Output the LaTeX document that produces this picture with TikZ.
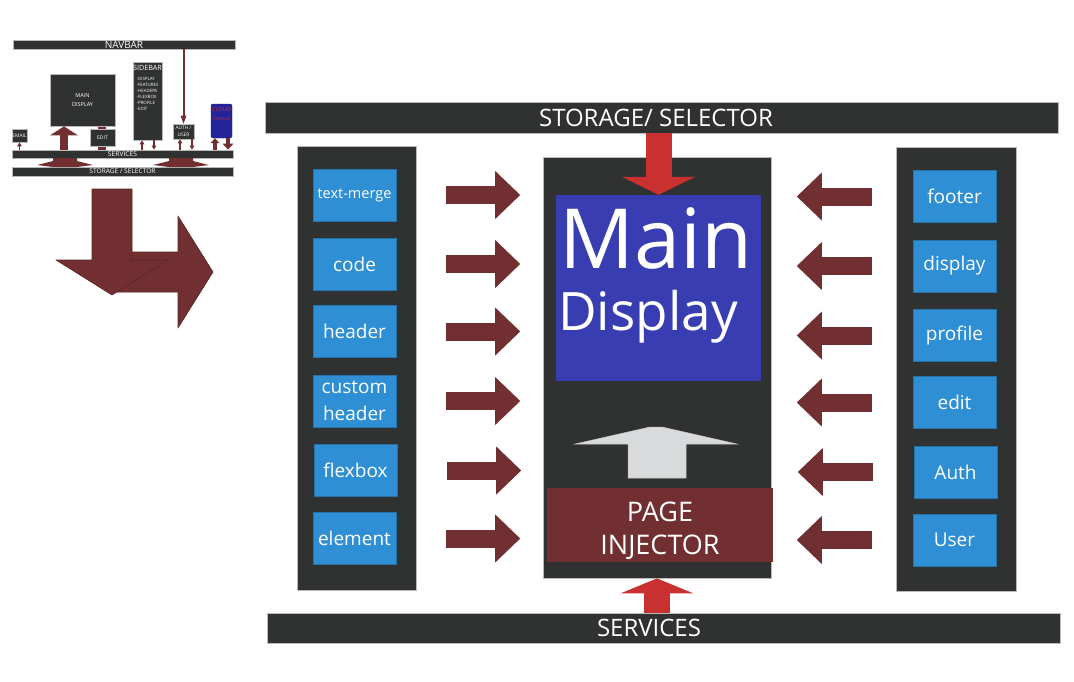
\documentclass[tikz,border=0pt]{standalone}
\usepackage{fontspec}
\setmainfont{Open Sans}
\usetikzlibrary{arrows.meta,calc}
\definecolor{panelgray}{HTML}{303131}
\definecolor{tileblue}{HTML}{2F8FD4}
\definecolor{darkred}{HTML}{722F31}
\definecolor{brightred}{HTML}{C93131}
\definecolor{screenblue}{HTML}{383DB1}
\definecolor{ghost}{HTML}{D9DADB}
\definecolor{cloudedge}{HTML}{24239A}
\definecolor{cloudmid}{HTML}{5656DC}
\def\flatwedge(#1){\fill[darkred] ($(#1)+(-28,7)$) -- ++(16,-4) -- ++(0,-3) -- ++(24,0) -- ++(0,3) -- ++(16,4) -- ++(-16,2) -- ++(-24,0) -- cycle;}
\tikzset{
	darkbox/.style={fill=panelgray, draw=gray!55, line width=0.8pt, text=white, inner sep=0pt, align=center},
	tile/.style={fill=tileblue, draw=tileblue!80!black, line width=0.4pt, text=white, minimum width=83, minimum height=52, inner sep=0pt, align=center, font=\fontsize{19}{27}\selectfont},
	bartext/.style={text=white, inner sep=0pt, font=\fontsize{24}{24}\selectfont},
	pusharr/.style={draw=darkred, line width=18pt, -{Triangle[length=25pt, width=48pt, line width=0pt]}},
	redpush/.style={draw=brightred, line width=26pt, -{Triangle[length=18pt, width=73pt, line width=0pt]}},
	tinyarr/.style={draw=darkred, line width=1.6pt, -{Triangle[length=4pt, width=5pt, line width=0pt]}},
	cloudarr/.style={draw=darkred, line width=3.5pt, -{Triangle[length=5pt, width=9pt, line width=0pt]}},
	bentarr/.style={fill=darkred, draw=darkred!80!black, line width=0.6pt, line join=round}
}

\begin{document}
\begin{tikzpicture}[x=1pt,y=-1pt]
			%%%%% START %%%%%
			\useasboundingbox (0,0) rectangle (1074,681);

			% small sketch
			\node[darkbox, minimum width=222, minimum height=9, font=\fontsize{10}{10}\selectfont] (navbar) at (124,44.5) {NAVBAR};
			\node[darkbox, minimum width=221, minimum height=8, font=\fontsize{6.7}{7}\selectfont] (sserv) at (122.5,154) {SERVICES};
			\node[darkbox, minimum width=221, minimum height=9, font=\fontsize{6.6}{7}\selectfont] (ssel) at (122.5,171.5) {STORAGE / SELECTOR};

			\flatwedge(65,158)
			\flatwedge(181,158)

			\fill[darkred] (98,126) rectangle (106,150);
			\node[darkbox, minimum width=65, minimum height=52, font=\fontsize{5.5}{9}\selectfont] (smain) at (82.5,100) {MAIN\\DISPLAY};
			\node[darkbox, minimum width=25, minimum height=17, font=\fontsize{5}{6}\selectfont] (sedit) at (102.5,137.5) {EDIT};
			\node[darkbox, minimum width=15, minimum height=13, font=\fontsize{4.9}{6}\selectfont] (semail) at (19.5,135.5) {EMAIL};
			\node[darkbox, minimum width=29, minimum height=78] (sside) at (147.5,101) {};
			\node[anchor=base, text=white, inner sep=0pt, font=\fontsize{7.2}{8}\selectfont] (sidetitle) at (147.5,70) {SIDEBAR};
			\node[anchor=north west, text=white, inner sep=0pt, align=left, font=\fontsize{4.4}{5.9}\selectfont] (sidelist) at (136.5,77.5) {-DISPLAY\\-FEATURES\\-HEADERS\\-FLEXBOX\\-PROFILE\\-EDIT};
			\node[darkbox, minimum width=21, minimum height=15, font=\fontsize{4.8}{6.5}\selectfont] (sauth) at (183.5,131.5) {AUTH /\\USER};
			\node[draw=cloudedge!70!black, line width=0.4pt, left color=cloudedge, middle color=cloudmid, right color=cloudedge, rounded corners=2pt, minimum width=21, minimum height=34, inner sep=0pt] (scloud) at (221.5,121) {};
			\node[text=brightred, align=center, inner sep=0pt, font=\fontsize{5.6}{9}\selectfont] (cloudtxt) at (221.5,114) {CLOUD\\{\fontsize{3.9}{5}\selectfont STORAGE}};

			\draw[darkred, line width=8pt, -{Triangle[length=9pt, width=28pt, line width=0pt]}] (sserv.north -| 64,0) -- (smain.south -| 64,0);
			\draw[tinyarr, line width=2pt, -{Triangle[length=8pt, width=6pt, line width=0pt]}] (sauth.north |- navbar.south) -- (sauth.north);
			\draw[tinyarr] (semail.south |- sserv.north) -- (semail.south);
			\draw[tinyarr] ([xshift=-5.5pt]sside.south |- sserv.north) -- ([xshift=-5.5pt]sside.south);
			\draw[tinyarr] ([xshift=6.5pt]sside.south) -- ([xshift=6.5pt]sside.south |- sserv.north);
			\draw[tinyarr] ([xshift=-3.5pt]sauth.south |- sserv.north) -- ([xshift=-3.5pt]sauth.south);
			\draw[tinyarr] ([xshift=8.5pt]sauth.south) -- ([xshift=8.5pt]sauth.south |- sserv.north);
			\draw[cloudarr] ([xshift=-6.5pt]scloud.south |- sserv.north) -- ([xshift=-6.5pt]scloud.south);
			\draw[cloudarr, line width=4pt, -{Triangle[length=6pt, width=11pt, line width=0pt]}] ([xshift=6.5pt]scloud.south) -- ([xshift=6.5pt]scloud.south |- sserv.north);

			% bent arrow
			\draw[bentarr] (112,252) -- (178,252) -- (178,216) -- (213,272) -- (178,328) -- (178,292) -- (112,292) -- cycle;
			\draw[bentarr] (92,189) -- (132,189) -- (132,260) -- (168,260) -- (112,295) -- (56,260) -- (92,260) -- cycle;

			% big picture
			\node[darkbox, minimum width=793, minimum height=31] (sel) at (661.5,117.5) {};
			\node[bartext] (seltxt) at (656,117.5) {STORAGE/ SELECTOR};
			\node[darkbox, minimum width=793, minimum height=30] (svc) at (663.5,628) {};
			\node[bartext] (svctxt) at (649,628) {SERVICES};

			\node[darkbox, minimum width=119, minimum height=444] (lpanel) at (356.5,368) {};
			\node[darkbox, minimum width=120, minimum height=444] (rpanel) at (956,369) {};
			\node[darkbox, minimum width=228, minimum height=421] (cpanel) at (657,367.5) {};

			\node[tile, font=\fontsize{14.5}{16}\selectfont] (merge) at (354.5,195) {text-merge};
			\node[tile] (code) at (354.5,264) {code};
			\node[tile] (header) at (354.5,331.5) {header};
			\node[tile] (custom) at (354.5,401) {custom\\header};
			\node[tile] (flexbox) at (355.5,470.5) {flexbox};
			\node[tile] (element) at (354.5,538.5) {element};

			\node[tile] (footer) at (954.5,196.5) {footer};
			\node[tile] (display) at (954.5,266) {display};
			\node[tile] (profile) at (954.5,335.5) {profile};
			\node[tile] (edit) at (954.5,402.5) {edit};
			\node[tile] (auth) at (955.5,472) {Auth};
			\node[tile] (user) at (954.5,540) {User};

			\foreach \t in {merge,code,header,custom,flexbox,element}
				\draw[pusharr] ([xshift=50pt]\t.east) -- ([xshift=124pt]\t.east);
			\foreach \t in {footer,display,profile,edit,auth,user}
				\draw[pusharr] ([xshift=-41pt]\t.west) -- ([xshift=-116pt]\t.west);

			\node[fill=screenblue, minimum width=205, minimum height=186, inner sep=0pt] (maind) at (658.5,288) {};
			\node[anchor=base, text=white, inner sep=0pt, font=\fontsize{83}{83}\selectfont] (maintxt) at (656,268) {Main};
			\node[anchor=base, text=white, inner sep=0pt, font=\fontsize{53}{53}\selectfont] (disptxt) at (648,330) {Display};

			\draw[fill=ghost, draw=gray!45, line width=0.5pt] (628,478) -- (628,444) -- (575,444) -- (650,427) -- (662,427) -- (737,444) -- (686,444) -- (686,478) -- cycle;

			\node[fill=darkred, minimum width=226, minimum height=74, inner sep=0pt] (inj) at (660,525) {};
			\node[text=white, align=center, inner sep=0pt, font=\fontsize{27}{33}\selectfont] (injtxt) at (660,531) {PAGE\\INJECTOR};

			\draw[redpush] (sel.south -| maind.north) -- (maind.north);
			\draw[redpush, -{Triangle[length=15pt, width=73pt, line width=0pt]}] (svc.north -| cpanel.south) -- (cpanel.south);

			%%%%% END %%%%%
\end{tikzpicture}
\end{document}
